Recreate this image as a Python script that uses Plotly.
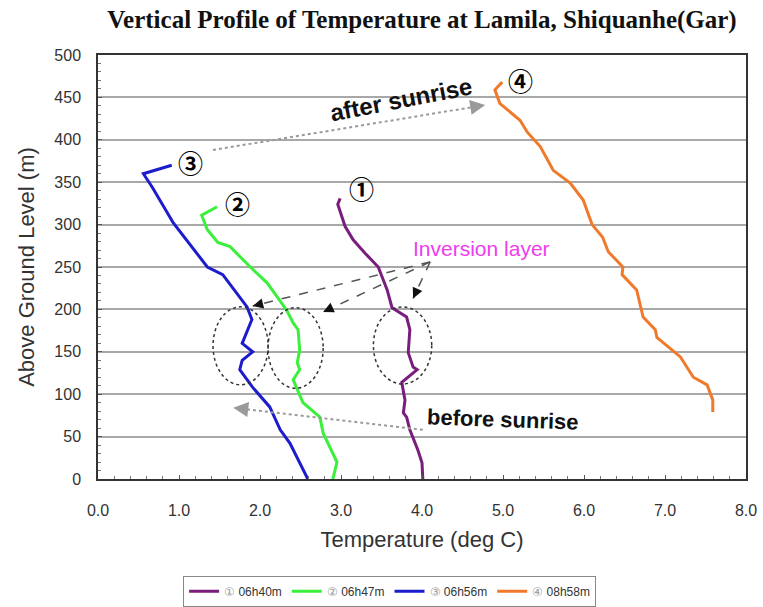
import plotly.graph_objects as go

# ---------------- data ----------------
T1 = [4.01, 4.00, 3.95, 3.88, 3.85, 3.81, 3.77, 3.79, 3.75, 3.94, 3.89, 3.83, 3.85, 3.81, 3.63, 3.57, 3.46, 3.30, 3.15, 3.05, 2.99, 2.96, 2.99]
H1 = [0, 19, 34, 50, 58, 73, 78, 93, 114, 129, 132, 149, 176, 191, 202, 223, 250, 266, 282, 298, 314, 324, 331]

T2 = [2.90, 2.95, 2.78, 2.74, 2.53, 2.41, 2.49, 2.46, 2.49, 2.47, 2.41, 2.33, 2.21, 2.09, 1.88, 1.63, 1.48, 1.35, 1.28, 1.47]
H2 = [0, 20, 54, 73, 90, 117, 129, 137, 152, 176, 184, 199, 215, 231, 250, 274, 279, 294, 311, 321]

T3 = [2.59, 2.37, 2.25, 2.12, 1.91, 1.75, 1.78, 1.91, 1.78, 1.90, 1.84, 1.54, 1.35, 0.93, 0.67, 0.56, 0.91]
H3 = [0, 42, 58, 85, 108, 129, 140, 150, 160, 188, 203, 241, 250, 302, 344, 360, 370]

T4 = [7.59, 7.59, 7.52, 7.35, 7.19, 6.90, 6.88, 6.73, 6.65, 6.47, 6.48, 6.30, 6.23, 6.10, 5.99, 5.83, 5.62, 5.46, 5.30, 5.21, 4.96, 4.90, 4.99]
H4 = [79, 93, 111, 120, 144, 167, 176, 191, 223, 241, 250, 268, 285, 300, 329, 349, 364, 392, 409, 423, 443, 459, 468]

SERIES_NAMES = ["06h40m", "06h47m", "06h56m", "08h58m"]
MARKS = ["①", "②", "③", "④"]
COLORS = ["#7a1e7e", "#3af03a", "#1c1ccc", "#f07a2c"]

X_TICKS = [0, 1, 2, 3, 4, 5, 6, 7, 8]
X_TICKTEXT = ["0.0", "1.0", "2.0", "3.0", "4.0", "5.0", "6.0", "7.0", "8.0"]

# ---------------- figure ----------------
W, H = 763, 607
ML, MR, MT, MB = 98, 17, 55, 128
PX_X = (W - ML - MR) / 8.0     # px per deg C
PX_Y = (H - MT - MB) / 500.0   # px per metre

fig = go.Figure()
for T, Hh, nm, mk, col in zip([T1, T2, T3, T4], [H1, H2, H3, H4], SERIES_NAMES, MARKS, COLORS):
    fig.add_trace(go.Scatter(
        x=T, y=Hh, mode="lines",
        line=dict(color=col, width=3),
        name='<span style="color:#9a9a9a">' + mk + '</span> ' + nm,
    ))

annotations = []
shapes = []

# circled labels at the tops of the profiles
for mk, (x, y) in zip(MARKS, [(3.25, 343), (1.72, 325), (1.14, 374), (5.21, 470)]):
    annotations.append(dict(x=x, y=y, xref="x", yref="y", text="<b>" + mk + "</b>", showarrow=False,
                            font=dict(family="Noto Sans CJK JP, DejaVu Sans", size=25, color="#000")))

# ellipses marking inversion layers
for x0, x1, y0, y1 in [(1.42, 2.10, 111, 203), (2.10, 2.78, 107, 202), (3.40, 4.12, 112, 203)]:
    shapes.append(dict(type="circle", xref="x", yref="y", x0=x0, x1=x1, y0=y0, y1=y1,
                       line=dict(color="#333", width=1.5, dash="dot")))


def arrow(sx, sy, hx, hy, color, width, dash, headcolor, headsize):
    shapes.append(dict(type="line", xref="x", yref="y", x0=sx, y0=sy, x1=hx, y1=hy,
                       line=dict(color=color, width=width, dash=dash)))
    dx = (hx - sx) * PX_X
    dy = -(hy - sy) * PX_Y
    L = (dx * dx + dy * dy) ** 0.5
    stub = 6
    annotations.append(dict(x=hx, y=hy, xref="x", yref="y", text="", showarrow=True,
                            ax=-dx / L * stub, ay=-dy / L * stub,
                            arrowhead=2, arrowsize=headsize, arrowwidth=1.5,
                            arrowcolor=headcolor))


# dotted gray sunrise arrows
arrow(1.42, 388, 4.78, 441, "#9a9a9a", 2, "dot", "#9a9a9a", 2.0)
arrow(4.01, 58, 1.67, 84, "#9a9a9a", 2, "dot", "#9a9a9a", 2.0)
# dashed inversion arrows
for hx, hy in [(1.91, 204), (2.78, 197), (3.89, 213)]:
    arrow(4.10, 256, hx, hy, "#555", 1.5, "dash", "#111", 1.4)

txtfont = "Liberation Sans Narrow, Arial Narrow, Liberation Sans"
annotations.append(dict(x=3.74, y=448, xref="x", yref="y", text="<b>after sunrise</b>", showarrow=False,
                        textangle=-11, font=dict(family=txtfont, size=24, color="#111")))
annotations.append(dict(x=5.0, y=70, xref="x", yref="y", text="<b>before sunrise</b>", showarrow=False,
                        textangle=2, font=dict(family=txtfont, size=22, color="#111")))
annotations.append(dict(x=4.74, y=272, xref="x", yref="y", text="Inversion layer", showarrow=False,
                        font=dict(family=txtfont, size=21, color="#ee3cee")))

fig.update_layout(
    width=W, height=H,
    margin=dict(l=ML, r=MR, t=MT, b=MB, autoexpand=False),
    paper_bgcolor="white", plot_bgcolor="white",
    title=dict(text="<b>Vertical Profile of Temperature at Lamila, Shiquanhe(Gar)</b>",
               x=(ML + (W - ML - MR) / 2) / W, xanchor="center", y=1 - 19 / H, yanchor="middle",
               font=dict(family="Liberation Serif, Times New Roman", size=25, color="#111")),
    font=dict(family="Liberation Sans, Arial", color="#333"),
    showlegend=True,
    legend=dict(orientation="h", x=0.45, xanchor="center", y=-0.228, yanchor="top",
                bordercolor="#888", borderwidth=1, font=dict(size=12, color="#333"),
                itemwidth=30, tracegroupgap=0),
    annotations=annotations,
    shapes=shapes,
)

fig.update_xaxes(range=[0, 8], tickvals=X_TICKS, ticktext=X_TICKTEXT,
                 showgrid=False, zeroline=False,
                 showline=True, mirror=True, linecolor="#333", linewidth=1.5,
                 ticks="inside", ticklen=4, tickcolor="#555",
                 minor=dict(dtick=0.2, ticks="inside", ticklen=3, tickcolor="#777"),
                 tickfont=dict(size=16, color="#333"), ticklabelstandoff=16,
                 automargin=False,
                 title=dict(text="Temperature (deg C)", font=dict(size=22, color="#333"), standoff=14))
fig.update_yaxes(range=[0, 500], dtick=50,
                 showgrid=True, gridcolor="#a8a8a8", gridwidth=2, zeroline=False,
                 showline=True, mirror=True, linecolor="#333", linewidth=1.5,
                 ticks="inside", ticklen=4, tickcolor="#555",
                 minor=dict(dtick=10, ticks="inside", ticklen=3, tickcolor="#777", showgrid=False),
                 tickfont=dict(size=16, color="#333"), ticklabelstandoff=12,
                 automargin=False,
                 title=dict(text="Above Ground Level (m)", font=dict(size=22, color="#333"), standoff=14))

fig.write_html("out.html")
